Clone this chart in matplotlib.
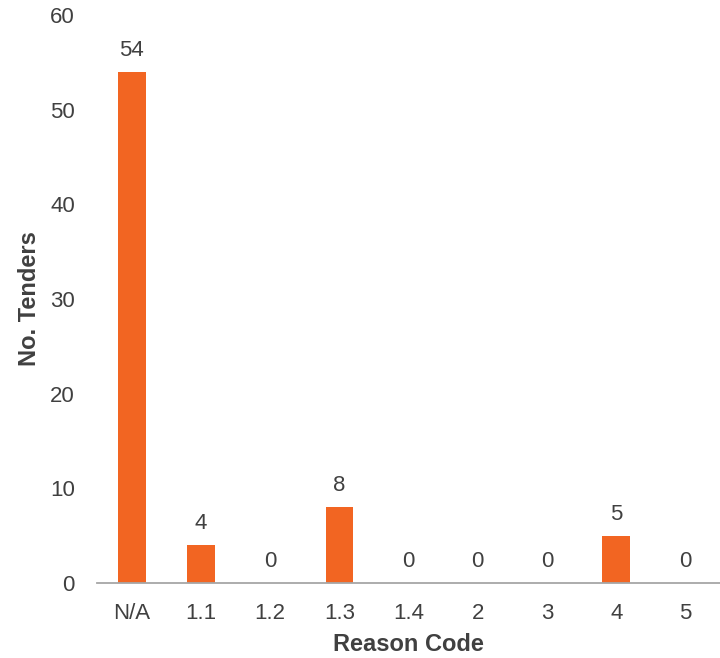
import matplotlib
matplotlib.use("Agg")
import matplotlib.pyplot as plt

categories = ["N/A", "1.1", "1.2", "1.3", "1.4", "2", "3", "4", "5"]
tenders = [54, 4, 0, 8, 0, 0, 0, 5, 0]
y_ticks = [0, 10, 20, 30, 40, 50, 60]

plt.rcParams["font.family"] = ["Liberation Sans", "DejaVu Sans"]
text_color = "#404040"
bar_color = "#F26522"

fig = plt.figure(figsize=(7.2, 6.58), dpi=100)
ax = fig.add_axes([0.135, 0.114, 0.865, 0.863])

x = range(len(categories))
bars = ax.bar(x, tenders, width=0.4, color=bar_color)

for rect, val in zip(bars, tenders):
    ax.annotate(str(val), (rect.get_x() + rect.get_width() / 2, rect.get_height()),
                xytext=(0, 8), textcoords="offset points",
                ha="center", va="bottom", fontsize=16, color=text_color)

ax.set_xlim(-0.5, len(categories) - 0.5)
ax.set_ylim(0, 60)
ax.set_yticks(y_ticks)
ax.set_xticks(list(x))
ax.set_xticklabels(categories)
ax.tick_params(axis="both", length=0, labelsize=16, labelcolor=text_color)
ax.tick_params(axis="y", pad=16)
ax.tick_params(axis="x", pad=14.5)

for side in ["top", "right", "left"]:
    ax.spines[side].set_visible(False)
ax.spines["bottom"].set_color("#A6A6A6")
ax.spines["bottom"].set_linewidth(1.3)

ax.set_xlabel("Reason Code", fontsize=17, fontweight="bold", color=text_color, labelpad=6.5)
ax.set_ylabel("No. Tenders", fontsize=17, fontweight="bold", color=text_color, labelpad=6.5)

fig.savefig("out.png", dpi=100)
